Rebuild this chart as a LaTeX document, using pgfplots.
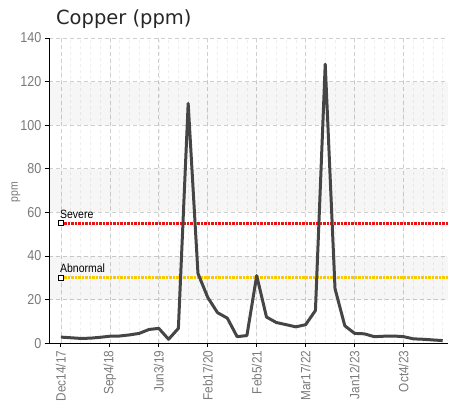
\documentclass[border=0pt]{standalone}
\usepackage{pgfplots}
\pgfplotsset{compat=1.18}
\usepackage{fontspec}
\setmainfont{Liberation Sans}
\newfontfamily\narrow[FakeStretch=0.875]{Liberation Sans}
\newfontfamily\titlefont{DejaVu Sans}
\definecolor{linegray}{HTML}{454545}
\definecolor{ticklab}{HTML}{7A7A7A}
\definecolor{gridc}{HTML}{CFCFCF}
\definecolor{minorg}{HTML}{EFEFEF}
\definecolor{sevred}{HTML}{EE1111}
\definecolor{abnyel}{HTML}{F8C800}
\pgfplotstableread{
i v
0 2.8
1 2.5
2 2.2
3 2.3
4 2.7
5 3.2
6 3.3
7 3.8
8 4.5
9 6.3
10 6.8
11 1.8
12 6.8
13 110
14 32
15 21
16 14
17 11.5
18 3
19 3.5
20 31
21 12
22 9.5
23 8.5
24 7.5
25 8.5
26 15
27 128
28 25
29 8
30 4.5
31 4.3
32 3
33 3.2
34 3.3
35 3
36 2
37 1.8
38 1.5
39 1.2
}\copper
\begin{document}
\begin{tikzpicture}
\begin{axis}[
  at={(0pt,0pt)}, anchor=south west,
  scale only axis, width=399pt, height=305.5pt,
  xmin=-1.22, xmax=39.5, ymin=0, ymax=140,
  axis x line*=bottom, axis y line*=left,
  axis line style={black, line width=0.8pt, -},
  xtick={0,5,...,35},
  xticklabels={Dec14/17,Sep4/18,Jun3/19,Feb17/20,Feb5/21,Mar17/22,Jan12/23,Oct4/23},
  minor xtick={0,...,39},
  ytick={0,20,...,140},
  tick align=outside,
  major tick length=4pt, minor tick length=0pt,
  tick style={black, line width=0.8pt},
  xmajorgrids, ymajorgrids, xminorgrids,
  major grid style={gridc, dash pattern=on 4pt off 3pt, line width=0.6pt},
  minor grid style={minorg, dash pattern=on 3pt off 3pt, line width=0.5pt},
  /pgf/number format/assume math mode=true,
  xticklabel style={rotate=90, anchor=east, font=\narrow\fontsize{13.5}{13.5}\selectfont, text=ticklab},
  yticklabel style={font=\narrow\fontsize{14.4}{14.4}\selectfont, text=ticklab},
  clip=false,
]
\fill[black, fill opacity=0.035] (axis cs:-1.22,20) rectangle (axis cs:39.5,40);
\fill[black, fill opacity=0.035] (axis cs:-1.22,60) rectangle (axis cs:39.5,80);
\fill[black, fill opacity=0.035] (axis cs:-1.22,100) rectangle (axis cs:39.5,120);
\addplot[sevred, line width=2.8pt, dash pattern=on 2.5pt off 1pt, forget plot] coordinates {(0,55) (39.5,55)};
\addplot[abnyel, line width=2.8pt, dash pattern=on 2.5pt off 1pt, forget plot] coordinates {(0,30) (39.5,30)};
\addplot[linegray, line width=3pt, line join=round] table[x=i, y=v] {\copper};
\addplot[only marks, mark=square*, mark size=2.6pt, mark options={fill=white, draw=black, line width=0.8pt}] coordinates {(0,55) (0,30)};
\node[anchor=base west, font=\narrow\fontsize{12}{12}\selectfont, inner sep=0pt] at (axis cs:-0.1,57.4) {Severe};
\node[anchor=base west, font=\narrow\fontsize{12}{12}\selectfont, inner sep=0pt] at (axis cs:-0.1,32.4) {Abnormal};
\end{axis}
\node[anchor=base west, inner sep=0pt, font=\titlefont\fontsize{19.5}{19.5}\selectfont, text=black!85] at (7pt,318.5pt) {Copper (ppm)};
\node[rotate=90, inner sep=0pt, font=\narrow\fontsize{12}{12}\selectfont, text=ticklab] at (-33pt,151pt) {ppm};
\path[use as bounding box] (-49pt,-64.5pt) rectangle (400pt,343.5pt);
\end{tikzpicture}
\end{document}
